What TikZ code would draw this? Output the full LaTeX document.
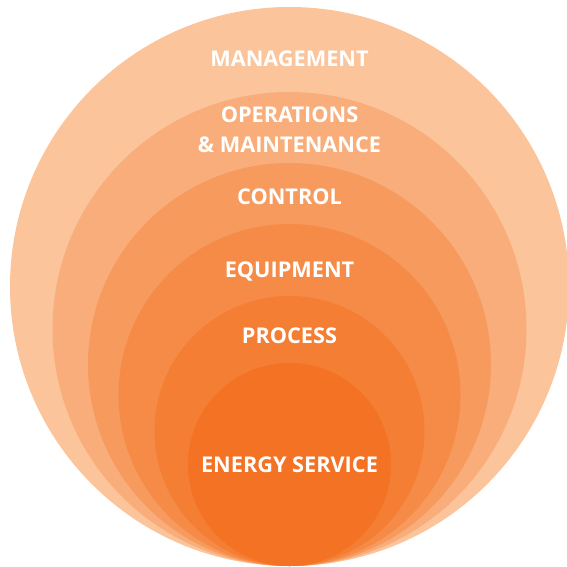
\documentclass[tikz,border=0pt]{standalone}
\usepackage{fontspec}
\setsansfont{Open Sans}
\definecolor{mgmtcol}{HTML}{FBC49A}
\definecolor{omcol}{HTML}{F9AD7A}
\definecolor{ctrlcol}{HTML}{F79A5E}
\definecolor{equipcol}{HTML}{F58B47}
\definecolor{proccol}{HTML}{F47E33}
\definecolor{energycol}{HTML}{F37223}
\begin{document}
\begin{tikzpicture}[x=1pt,y=-1pt,ring/.style={circle,inner sep=0pt,minimum size=#1},
		lbl/.style={text=white,anchor=base,align=center,inner sep=0pt,font=\sffamily\bfseries\fontsize{21.7}{29}\selectfont}]
			\useasboundingbox (0,0) rectangle (567,567);
			% rings, all touching at the bottom
			\node (mgmt) [ring=559pt,fill=mgmtcol] at (289.5,286.5) {};
			\node (om) [ring=474pt,fill=omcol] at (289.5,329) {};
			\node (ctrl) [ring=403pt,fill=ctrlcol] at (289.5,364.5) {};
			\node (equip) [ring=342pt,fill=equipcol] at (289.5,395) {};
			\node (proc) [ring=270pt,fill=proccol] at (289.5,431) {};
			\node (energy) [ring=203pt,fill=energycol] at (289.5,464.5) {};
			% labels
			\node (tmgmt) [lbl] at (289.5,66.5) {MANAGEMENT};
			\node (tom) [lbl] at (289.5,152) {OPERATIONS\\\& MAINTENANCE};
			\node (tctrl) [lbl] at (289.5,204) {CONTROL};
			\node (tequip) [lbl] at (289.5,277) {EQUIPMENT};
			\node (tproc) [lbl] at (289.5,343) {PROCESS};
			\node (tenergy) [lbl] at (289.5,472) {ENERGY SERVICE};
		\end{tikzpicture}
\end{document}
